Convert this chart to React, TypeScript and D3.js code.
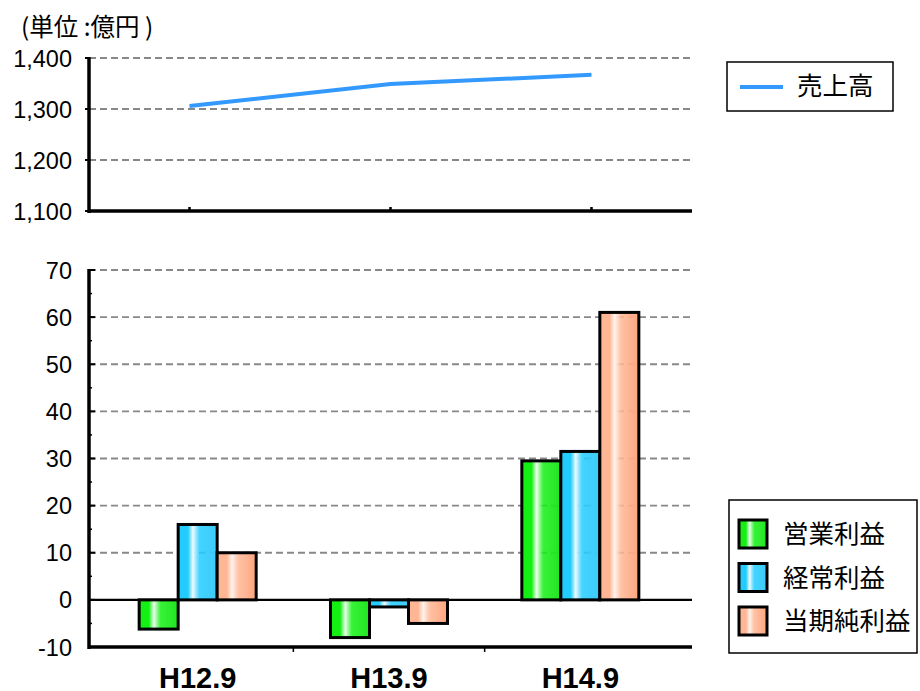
import React from "react";
import * as d3 from "d3";

const categories = ["H12.9", "H13.9", "H14.9"];
const salesValues = [1306, 1349, 1367];
const operatingProfit = [-6.2, -8, 29.5];
const ordinaryProfit = [16, -1.5, 31.5];
const netProfit = [10, -5, 61];
const seriesNames = ["営業利益", "経常利益", "当期純利益"];
const lineName = "売上高";
const topTicks = [1100, 1200, 1300, 1400];
const bottomTicks = [-10, 0, 10, 20, 30, 40, 50, 60, 70];
const unitLabel = "(単位 :億円 )";

const W = 920;
const H = 691;
const LATIN = "'Liberation Sans', Arial, sans-serif";
const CJK = "'Noto Sans CJK JP', 'Liberation Sans', sans-serif";

const gradients = [
  { id: "gGreen", c0: "#14f014", hi: "#f0fff0", c1: "#22e422" },
  { id: "gBlue", c0: "#22ccff", hi: "#f0fbff", c1: "#3fcaf8" },
  { id: "gOrange", c0: "#ffb694", hi: "#fff4ee", c1: "#ffa47c" },
];

export default function App() {
  const axisLeft = 89;
  const axisRight = 692;

  // Top chart
  const xTop = d3.scaleBand<string>().domain(categories).range([axisLeft, axisRight]);
  const yTop = d3.scaleLinear().domain([1100, 1400]).range([211, 58]);
  const line = d3
    .line<number>()
    .x((_, i) => (xTop(categories[i]) as number) + xTop.bandwidth() / 2)
    .y((d) => yTop(d));

  // Bottom chart
  const xBot = d3.scaleBand<string>().domain(categories).range([102, 676]);
  const yBot = d3.scaleLinear().domain([-10, 70]).range([647, 270]);
  const series = [operatingProfit, ordinaryProfit, netProfit];
  const barW = 39;
  const groupW = barW * 3;
  const minorTicks = d3.range(-5, 70, 10);

  return (
    <svg
      width={W}
      height={H}
      style={{ position: "absolute", left: 0, top: 0, background: "#fff" }}
    >
      <defs>
        {gradients.map((g) => (
          <linearGradient key={g.id} id={g.id} x1="0" x2="1" y1="0" y2="0">
            <stop offset="0" stopColor={g.c0} />
            <stop offset="0.25" stopColor={g.c0} />
            <stop offset="0.38" stopColor={g.hi} />
            <stop offset="0.55" stopColor={g.c0} stopOpacity={0.85} />
            <stop offset="1" stopColor={g.c1} />
          </linearGradient>
        ))}
      </defs>

      {/* Unit label */}
      <text x={21} y={36} fontFamily={CJK} fontSize={24.5} fill="#000" style={{ whiteSpace: "pre" }}>
        {unitLabel}
      </text>

      {/* ===== Top chart ===== */}
      {topTicks
        .filter((t) => t !== 1100)
        .map((t) => (
          <line
            key={"tg" + t}
            x1={axisLeft}
            x2={axisRight}
            y1={yTop(t)}
            y2={yTop(t)}
            stroke="#888"
            strokeWidth={1.8}
            strokeDasharray="7,4"
          />
        ))}
      {topTicks.map((t) => (
        <g key={"tt" + t}>
          <line x1={axisLeft - 4} x2={axisLeft} y1={yTop(t)} y2={yTop(t)} stroke="#000" strokeWidth={2} />
          <text
            x={72}
            y={yTop(t) + 8.5}
            textAnchor="end"
            fontFamily={LATIN}
            fontSize={23.5}
            fill="#000"
          >
            {d3.format(",")(t)}
          </text>
        </g>
      ))}
      <path
        d={line(salesValues) || ""}
        fill="none"
        stroke="#3399ff"
        strokeWidth={4}
      />
      <line x1={axisLeft} x2={axisLeft} y1={yTop(1400) - 1} y2={yTop(1100) + 2} stroke="#000" strokeWidth={3.5} />
      <line x1={axisLeft - 1} x2={axisRight} y1={yTop(1100)} y2={yTop(1100)} stroke="#000" strokeWidth={3.5} />
      {categories.map((c) => (
        <line
          key={"tx" + c}
          x1={(xTop(c) as number) + xTop.bandwidth() / 2}
          x2={(xTop(c) as number) + xTop.bandwidth() / 2}
          y1={yTop(1100) - 4}
          y2={yTop(1100)}
          stroke="#000"
          strokeWidth={2.5}
        />
      ))}

      {/* Top legend */}
      <rect x={727} y={62} width={166} height={49} fill="#fff" stroke="#000" strokeWidth={1.5} />
      <line x1={740} x2={783} y1={87} y2={87} stroke="#3399ff" strokeWidth={4} />
      <text x={797} y={95} fontFamily={CJK} fontSize={25.5} fill="#000">
        {lineName}
      </text>

      {/* ===== Bottom chart ===== */}
      {bottomTicks
        .filter((t) => t > 0)
        .map((t) => (
          <line
            key={"bg" + t}
            x1={axisLeft}
            x2={axisRight}
            y1={yBot(t)}
            y2={yBot(t)}
            stroke="#888"
            strokeWidth={1.8}
            strokeDasharray="7,4"
          />
        ))}
      {bottomTicks.map((t) => (
        <g key={"bt" + t}>
          <line x1={axisLeft} x2={axisLeft + 6} y1={yBot(t)} y2={yBot(t)} stroke="#000" strokeWidth={2} />
          <text
            x={72}
            y={yBot(t) + 8.5}
            textAnchor="end"
            fontFamily={LATIN}
            fontSize={23.5}
            fill="#000"
          >
            {t}
          </text>
        </g>
      ))}
      {minorTicks.map((t) => (
        <line key={"bm" + t} x1={axisLeft} x2={axisLeft + 3} y1={yBot(t)} y2={yBot(t)} stroke="#000" strokeWidth={1.5} />
      ))}

      {/* zero line */}
      <line x1={axisLeft} x2={axisRight} y1={yBot(0)} y2={yBot(0)} stroke="#000" strokeWidth={2.2} />

      {/* bars */}
      {categories.map((c, ci) => {
        const cx = (xBot(c) as number) + xBot.bandwidth() / 2;
        return series.map((s, si) => {
          const v = s[ci];
          const x = cx - groupW / 2 + si * barW;
          const y0 = yBot(Math.max(0, v));
          const y1 = yBot(Math.min(0, v));
          return (
            <rect
              key={c + si}
              x={x}
              y={y0}
              width={barW}
              height={Math.max(1, y1 - y0)}
              fill={`url(#${gradients[si].id})`}
              stroke="#000"
              strokeWidth={3}
            />
          );
        });
      })}

      <line x1={axisLeft} x2={axisLeft} y1={yBot(70) - 1} y2={yBot(-10) + 2} stroke="#000" strokeWidth={3.5} />
      <line x1={axisLeft - 1} x2={axisRight} y1={yBot(-10)} y2={yBot(-10)} stroke="#000" strokeWidth={3.5} />
      {categories.slice(1).map((c) => (
        <line
          key={"bx" + c}
          x1={xBot(c) as number}
          x2={xBot(c) as number}
          y1={yBot(-10)}
          y2={yBot(-10) + 5}
          stroke="#000"
          strokeWidth={1.5}
        />
      ))}
      {categories.map((c) => (
        <text
          key={"bl" + c}
          x={(xBot(c) as number) + xBot.bandwidth() / 2}
          y={688}
          textAnchor="middle"
          fontFamily={LATIN}
          fontWeight="bold"
          fontSize={29}
          fill="#000"
        >
          {c}
        </text>
      ))}

      {/* Bottom legend */}
      <rect x={729} y={500} width={188} height={153} fill="#fff" stroke="#000" strokeWidth={1.5} />
      {seriesNames.map((n, i) => {
        const cy = 534 + i * 43.5;
        return (
          <g key={n}>
            <rect
              x={739}
              y={cy - 14}
              width={28}
              height={28}
              fill={`url(#${gradients[i].id})`}
              stroke="#000"
              strokeWidth={3}
            />
            <text x={783} y={cy + 9} fontFamily={CJK} fontSize={25.5} fill="#000">
              {n}
            </text>
          </g>
        );
      })}
    </svg>
  );
}
